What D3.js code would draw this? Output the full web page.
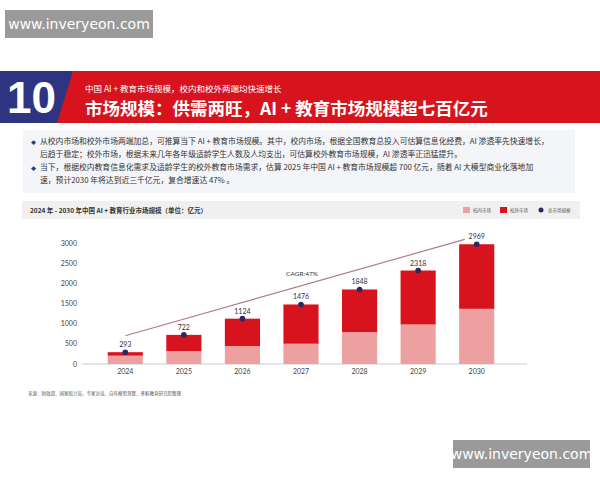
<!DOCTYPE html>
<meta charset="utf-8">
<script src="https://d3js.org/d3.v7.min.js"></script>
<style>body{margin:0;background:#fff}svg{font-family:"Noto Sans CJK SC","Noto Sans",sans-serif}</style>
<body>
<script>
var years = ["2024","2025","2026","2027","2028","2029","2030"];
var inner = [206, 321, 445, 503, 791, 980, 1368];   // 校内市场
var outer = [87, 401, 679, 973, 1057, 1338, 1601];  // 校外市场
var totals = [293, 722, 1124, 1476, 1848, 2318, 2969];
var yTicks = [0, 500, 1000, 1500, 2000, 2500, 3000];

var svg = d3.select("body").append("svg").attr("width", 600).attr("height", 480);

// watermarks
function mark(x, y, w, h) {
  svg.append("rect").attr("x", x).attr("y", y).attr("width", w).attr("height", h).attr("fill", "#9a9a9a");
  svg.append("text").attr("x", x + w / 2).attr("y", y + h / 2 + 5).attr("text-anchor", "middle")
    .attr("fill", "#fff").attr("font-size", 14).attr("font-family", "DejaVu Sans").text("www.inveryeon.com");
}
mark(5, 10, 148, 28);

// banner
svg.append("rect").attr("x", 0).attr("y", 71).attr("width", 600).attr("height", 52).attr("fill", "#d7141e");
svg.append("path").attr("d", "M0,71 L73,71 L57,123 L0,123 Z").attr("fill", "#2d3481");
svg.append("text").attr("x", 7).attr("y", 113).attr("fill", "#fff").attr("font-size", 44)
  .attr("font-weight", "bold").attr("font-family", "Liberation Sans").text("10");
svg.append("text").attr("x", 85).attr("y", 92).attr("fill", "#fff").attr("font-size", 8.5)
  .text("中国 AI + 教育市场规模，校内和校外两端均快速增长");
svg.append("text").attr("x", 85).attr("y", 115).attr("fill", "#fff").attr("font-size", 17.5)
  .attr("font-weight", "bold").text("市场规模：供需两旺，AI + 教育市场规模超七百亿元");

// text box
svg.append("rect").attr("x", 23).attr("y", 130).attr("width", 552).attr("height", 63).attr("fill", "#f3f5f9");
var lines = [
  ["◆", "从校内市场和校外市场两端加总，可推算当下 AI + 教育市场规模。其中，校内市场，根据全国教育总投入可估算信息化经费，AI 渗透率先快速增长，"],
  ["", "后趋于稳定；校外市场，根据未来几年各年级适龄学生人数及人均支出，可估算校外教育市场规模，AI 渗透率正迅猛提升。"],
  ["◆", "当下，根据校内教育信息化需求及适龄学生的校外教育市场需求，估算 2025 年中国 AI + 教育市场规模超 700 亿元，随着 AI 大模型商业化落地加"],
  ["", "速，预计2030 年将达到近三千亿元，复合增速达 47% 。"]
];
var ly = [144, 157, 170, 183];
lines.forEach(function(l, i) {
  if (l[0]) svg.append("text").attr("x", 31).attr("y", ly[i]).attr("font-size", 5).attr("fill", "#2d3481").text(l[0]);
  svg.append("text").attr("x", 40).attr("y", ly[i]).attr("font-size", 7.8).attr("fill", "#333").text(l[1]);
});

// chart header
svg.append("rect").attr("x", 22).attr("y", 201).attr("width", 558).attr("height", 18).attr("fill", "#f0f0f0");
svg.append("text").attr("x", 30).attr("y", 213).attr("font-size", 6.5).attr("font-weight", "bold").attr("fill", "#333")
  .text("2024 年 - 2030 年中国 AI + 教育行业市场规模（单位：亿元）");
var leg = [["rect", "#eda0a0", "校内市场", 463], ["rect", "#d7141e", "校外市场", 500], ["circle", "#2b2a5e", "总市场规模", 538]];
leg.forEach(function(d) {
  if (d[0] == "rect") svg.append("rect").attr("x", d[3]).attr("y", 207).attr("width", 7).attr("height", 6).attr("fill", d[1]);
  else svg.append("circle").attr("cx", d[3] + 3).attr("cy", 210).attr("r", 2.5).attr("fill", d[1]);
  svg.append("text").attr("x", d[3] + 10).attr("y", 212).attr("font-size", 4.5).attr("fill", "#555").text(d[2]);
});

// chart
var x = d3.scaleBand().domain(years).range([96, 506]).paddingInner(0.4).paddingOuter(0.2);
var y = d3.scaleLinear().domain([0, 3000]).range([364, 243]);

var g = svg.append("g");
g.append("line").attr("x1", 82).attr("x2", 527).attr("y1", y(0)).attr("y2", y(0)).attr("stroke", "#ccc");
yTicks.forEach(function(t) {
  g.append("text").attr("x", 77).attr("y", y(t) + 2.5).attr("text-anchor", "end").attr("font-size", 7)
    .attr("fill", "#444").attr("font-family", "Lato").text(t);
});
years.forEach(function(yr, i) {
  var bx = x(yr), bw = x.bandwidth(), cx = bx + bw / 2;
  g.append("rect").attr("x", bx).attr("width", bw).attr("y", y(inner[i])).attr("height", y(0) - y(inner[i])).attr("fill", "#eda0a0");
  g.append("rect").attr("x", bx).attr("width", bw).attr("y", y(inner[i] + outer[i])).attr("height", y(inner[i]) - y(inner[i] + outer[i])).attr("fill", "#d7141e");
  g.append("circle").attr("cx", cx).attr("cy", y(totals[i])).attr("r", 2.8).attr("fill", "#2b2a5e");
  g.append("text").attr("x", cx).attr("y", y(totals[i]) - 5).attr("text-anchor", "middle").attr("font-size", 7)
    .attr("fill", "#333").attr("font-family", "Lato").text(totals[i]);
  g.append("text").attr("x", cx).attr("y", 374).attr("text-anchor", "middle").attr("font-size", 7)
    .attr("fill", "#444").attr("font-family", "Lato").text(yr);
});
// CAGR trend line
var x0 = x("2024") + x.bandwidth() / 2, x1 = x("2030") + x.bandwidth() / 2 - 12;
g.append("line").attr("x1", x0).attr("y1", y(700)).attr("x2", x1).attr("y2", y(3090))
  .attr("stroke", "#b27a86").attr("stroke-width", 1.2);
g.append("text").attr("x", 302).attr("y", 276).attr("text-anchor", "middle").attr("font-size", 6.5)
  .attr("fill", "#333").attr("font-family", "Lato").text("CAGR:47%");

svg.append("text").attr("x", 28).attr("y", 395).attr("font-size", 4.5).attr("fill", "#555")
  .text("来源：财政部、国家统计局、专家访谈、自有模型测算、多鲸教育研究院整理");

mark(453, 440, 137, 28);
</script>
